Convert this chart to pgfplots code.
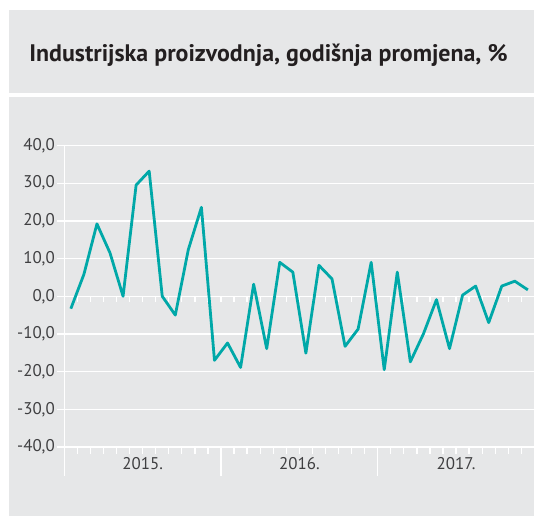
\documentclass[border=0pt]{standalone}
\usepackage{fontspec}
\setmainfont{PT Sans}
\usepackage{pgfplots}
\pgfplotsset{compat=1.18}
\definecolor{bg}{HTML}{E6E7E8}
\definecolor{lineteal}{HTML}{00A8A8}
\definecolor{txt}{HTML}{231F20}
\definecolor{lab}{HTML}{3F3F41}
\begin{document}
\begin{tikzpicture}
\useasboundingbox (0bp,0bp) rectangle (534bp,516bp);
\fill[white] (0bp,0bp) rectangle (534bp,516bp);
\fill[bg] (9bp,423bp) rectangle (534bp,506bp);
\fill[bg] (9bp,0bp) rectangle (534bp,419bp);
\node[anchor=base, text=txt, font=\bfseries\fontsize{24}{28}\selectfont, inner sep=0pt] at (268.5bp,454bp) {Industrijska proizvodnja, godišnja promjena, \%};
\begin{axis}[at={(64.3bp,69bp)}, anchor=south west, scale only axis,
  width=470.1bp, height=301.5bp,
  xmin=0, xmax=36, ymin=-40, ymax=40, clip=false,
  axis line style={draw=none},
  xtick={6,18,30}, xticklabels={2015.,2016.,2017.},
  ytick={-40,-30,...,40},
  yticklabels={{-40,0},{-30,0},{-20,0},{-10,0},{0,0},{10,0},{20,0},{30,0},{40,0}},
  tick style={draw=none},
  ymajorgrids, major grid style={white, line width=1.3bp},
  ticklabel style={font=\fontsize{17}{20}\selectfont, text=lab},
  yticklabel style={anchor=east, xshift=-6bp},
  xticklabel style={anchor=base, yshift=-22bp},
]
\draw[white, line width=1.3bp] (axis cs:0,40) -- (axis cs:0,-47.615);
\pgfplotsinvokeforeach{-40,-30,...,40}{
  \draw[white, line width=1.3bp] (axis cs:0,#1) -- (axis cs:-0.536,#1);
}
\pgfplotsinvokeforeach{12,24,36}{
  \draw[white, line width=1.3bp] (axis cs:#1,-40) -- (axis cs:#1,-47.615);
}
\pgfplotsinvokeforeach{1,...,35}{
  \draw[white, line width=1.3bp] (axis cs:#1,-40) -- (axis cs:#1,-41.857);
  \draw[white, line width=1.3bp] (axis cs:#1,0) -- (axis cs:#1,-1.592);
}
\addplot[lineteal, line width=2.8bp, line join=round] coordinates {
(0.5,-3.3) (1.5,5.8) (2.5,19.2) (3.5,11.5) (4.5,0.0) (5.5,29.5)
(6.5,33.2) (7.5,0.0) (8.5,-5.0) (9.5,12.4) (10.5,23.6) (11.5,-17.0)
(12.5,-12.4) (13.5,-18.9) (14.5,3.2) (15.5,-13.9) (16.5,9.0) (17.5,6.4)
(18.5,-15.1) (19.5,8.2) (20.5,4.6) (21.5,-13.3) (22.5,-8.7) (23.5,9.0)
(24.5,-19.5) (25.5,6.4) (26.5,-17.4) (27.5,-10.0) (28.5,-0.9) (29.5,-13.9)
(30.5,0.3) (31.5,2.7) (32.5,-7.0) (33.5,2.7) (34.5,4.0) (35.5,1.7)
};
\end{axis}
\end{tikzpicture}
\end{document}
